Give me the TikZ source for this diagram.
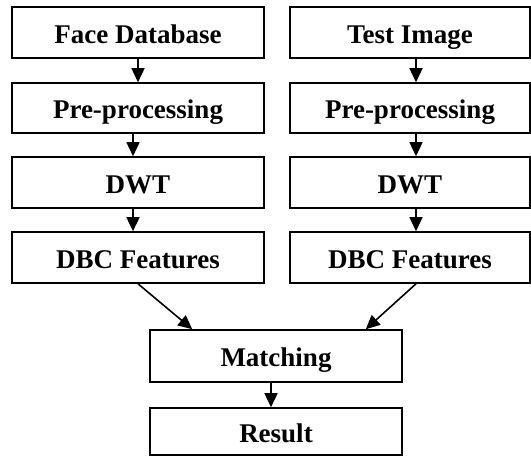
\documentclass[tikz,border=0pt]{standalone}
\usepackage{fontspec}
\setmainfont{Liberation Serif}
\usetikzlibrary{arrows.meta}
\begin{document}
\begin{tikzpicture}[x=1pt,y=-1pt,
  box/.style={draw,line width=1.6pt,inner sep=0pt,text height=25pt,text depth=4pt,font=\fontsize{27}{30}\selectfont\bfseries},
  arr/.style={line width=1.6pt,-{Triangle[length=14pt,width=13pt]}}]
\useasboundingbox (0,0) rectangle (531,456);
\node[box,minimum width=252pt,minimum height=51pt] (l1) at (138,32.5) {Face Database};
\node[box,minimum width=252pt,minimum height=50pt] (l2) at (138,108) {Pre-processing};
\node[box,minimum width=252pt,minimum height=51pt] (l3) at (138,182.5) {DWT};
\node[box,minimum width=252pt,minimum height=51pt] (l4) at (138,257.5) {DBC Features};
\node[box,minimum width=240pt,minimum height=51pt] (r1) at (410,32.5) {Test Image};
\node[box,minimum width=240pt,minimum height=50pt] (r2) at (410,108) {Pre-processing};
\node[box,minimum width=240pt,minimum height=51pt] (r3) at (410,182.5) {DWT};
\node[box,minimum width=240pt,minimum height=51pt] (r4) at (410,257.5) {DBC Features};
\node[box,minimum width=252pt,minimum height=52pt] (m) at (276,356) {Matching};
\node[box,minimum width=252pt,minimum height=47pt] (res) at (276,431.5) {Result};
\draw[arr] (l1) -- (l2);
\draw[arr] ([xshift=-5pt]l2.south) -- ([xshift=-5pt]l3.north);
\draw[arr] ([xshift=-5pt]l3.south) -- ([xshift=-5pt]l4.north);
\draw[arr] ([xshift=6pt]r1.south) -- ([xshift=6pt]r2.north);
\draw[arr] ([xshift=6pt]r2.south) -- ([xshift=6pt]r3.north);
\draw[arr] ([xshift=6pt]r3.south) -- ([xshift=6pt]r4.north);
\draw[arr] (l4.south) -- ([xshift=43pt]m.north west);
\draw[arr] ([xshift=6pt]r4.south) -- ([xshift=-37pt]m.north east);
\draw[arr] ([xshift=-5pt]m.south) -- ([xshift=-5pt]res.north);
\end{tikzpicture}
\end{document}
